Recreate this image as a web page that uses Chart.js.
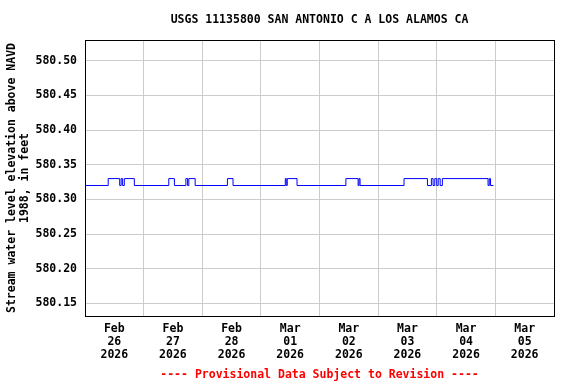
<!DOCTYPE html>
<html>
<head>
<meta charset="utf-8">
<script src="https://cdn.jsdelivr.net/npm/chart.js@4/dist/chart.umd.min.js"></script>
<style>
  html, body { margin: 0; padding: 0; background: #fff; }
  #wrap { width: 576px; height: 384px; }
</style>
</head>
<body>
<div id="wrap"><canvas id="gage"></canvas></div>
<script>
// hours since Feb 26 2026 00:00, and gage height (ft) that starts at that hour
const hours = [0, 9.5, 14.2, 14.8, 15.4, 16.1, 20.2, 34.3, 36.6, 41.3, 42.0, 42.5, 45.1,
               58.3, 60.6, 82.0, 82.4, 82.8, 86.8, 106.8, 111.8, 112.2, 112.6, 130.6, 140.2,
               141.8, 142.5, 143.2, 144.0, 144.6, 145.4, 146.3, 165.0, 165.5, 166.0, 167.2];
const level = [580.32, 580.33, 580.32, 580.33, 580.32, 580.33, 580.32, 580.33, 580.32, 580.33, 580.32, 580.33, 580.32,
               580.33, 580.32, 580.33, 580.32, 580.33, 580.32, 580.33, 580.32, 580.33, 580.32, 580.33, 580.32,
               580.33, 580.32, 580.33, 580.32, 580.33, 580.32, 580.33, 580.32, 580.33, 580.32, 580.32];

const dayTicks = [12, 36, 60, 84, 108, 132, 156, 180];
const dayLabels = [["Feb","26","2026"],["Feb","27","2026"],["Feb","28","2026"],["Mar","01","2026"],
                   ["Mar","02","2026"],["Mar","03","2026"],["Mar","04","2026"],["Mar","05","2026"]];
const yTicks = [580.15, 580.20, 580.25, 580.30, 580.35, 580.40, 580.45, 580.50];

const pts = hours.map((h, i) => ({x: h, y: level[i]}));
const monoFont = {family: "'DejaVu Sans Mono', 'Liberation Mono', monospace", size: 11.5, weight: 'bold', lineHeight: '13px'};

// box round the plot area
const frame = {
  id: 'frame',
  afterDraw(chart) {
    const a = chart.chartArea, c = chart.ctx;
    c.save();
    c.strokeStyle = '#000';
    c.lineWidth = 1;
    c.strokeRect(Math.round(a.left) + 0.5, Math.round(a.top) + 0.5, Math.round(a.right - a.left), Math.round(a.bottom - a.top));
    c.restore();
  }
};

new Chart("gage", {
  type: "line",
  data: {
    datasets: [{
      data: pts,
      borderColor: "#0000ff",
      borderWidth: 1,
      pointRadius: 0,
      stepped: true,
      fill: false
    }]
  },
  options: {
    animation: false,
    responsive: true,
    maintainAspectRatio: false,
    layout: { padding: { right: 22 } },
    plugins: {
      legend: { display: false },
      tooltip: { enabled: false },
      title: {
        display: true,
        fullSize: false,
        text: "USGS 11135800 SAN ANTONIO C A LOS ALAMOS CA",
        color: "#000",
        font: monoFont,
        padding: { top: 14, bottom: 13 }
      }
    },
    scales: {
      x: {
        type: "linear",
        min: 0,
        max: 192,
        afterBuildTicks: s => { s.ticks = dayTicks.map(v => ({value: v})); },
        afterFit: s => { s.height = 68; },
        ticks: {
          color: "#000",
          font: monoFont,
          padding: 7,
          maxRotation: 0,
          autoSkip: false,
          callback: (v, i) => dayLabels[i]
        },
        grid: { color: "#cccccc", offset: true, drawTicks: false },
        border: { display: false },
        title: {
          display: true,
          text: "---- Provisional Data Subject to Revision ----",
          color: "#ff0000",
          font: monoFont,
          padding: { top: 0, bottom: 2.5 }
        }
      },
      y: {
        min: 580.1317,
        max: 580.530,
        afterBuildTicks: s => { s.ticks = yTicks.map(v => ({value: v})); },
        afterFit: s => { s.width = 85; },
        ticks: {
          color: "#000",
          font: monoFont,
          padding: 8,
          callback: v => v.toFixed(2)
        },
        grid: { color: "#cccccc", drawTicks: false },
        border: { display: false },
        title: {
          display: true,
          text: ["Stream water level elevation above NAVD", "1988, in feet"],
          color: "#000",
          font: monoFont,
          padding: { top: 5.5, bottom: 0 }
        }
      }
    }
  },
  plugins: [frame]
});
</script>
</body>
</html>
